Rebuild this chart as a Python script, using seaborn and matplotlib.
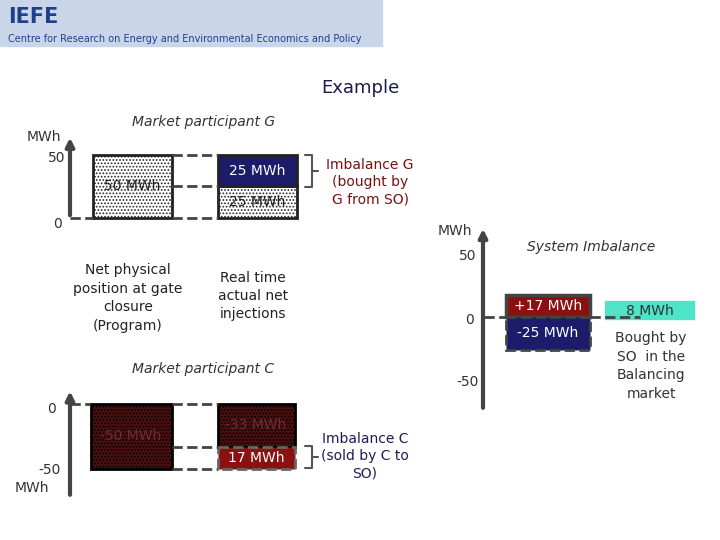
import matplotlib
matplotlib.use("Agg")
import matplotlib.pyplot as plt
import seaborn as sns
from matplotlib.patches import Rectangle

sns.set_theme(style="white")
plt.rcParams['font.family'] = ['DejaVu Sans']
plt.rcParams['hatch.color'] = '#888888'
plt.rcParams['hatch.linewidth'] = 0.8

W, H = 720, 540
# Data
g_program = [50]
g_real = [25, 25]          # lower white part, upper imbalance part
c_program = [-50]
c_real = [-33, -17]        # upper -33, lower imbalance 17
sys_pos = [17]
sys_neg = [-25]
bought = [8]

fig = plt.figure(figsize=(7.2, 5.4), dpi=100)
bg = fig.add_axes([0, 0, 1, 1])
bg.set_xlim(0, W); bg.set_ylim(H, 0); bg.axis('off')

def pax(left, right, top, bottom, y0px, ppu):
    ax = fig.add_axes([left / W, 1 - bottom / H, (right - left) / W, (bottom - top) / H])
    ax.set_xlim(left, right)
    ax.set_ylim((y0px - bottom) / ppu, (y0px - top) / ppu)
    ax.axis('off')
    ax.patch.set_alpha(0)
    return ax

# Header
bg.add_patch(Rectangle((0, 0), 382, 46, color='#c9d6ea', zorder=0))
bg.text(8, 17, "IEFE", fontsize=15, fontweight='bold', color='#1f3f8a', va='center')
bg.text(8, 39, "Centre for Research on Energy and Environmental Economics and Policy",
        fontsize=7, color='#1f3f8a', va='center')
bg.text(360, 88, "Example", fontsize=13, ha='center', va='center', color='#1a1a4a')

# ---- Market participant G
ppuG = (218 - 155) / 50
axG = pax(60, 320, 125, 235, 218, ppuG)
axG.bar([132], g_program, width=79, color='white', edgecolor='#222', lw=2, hatch='.....')
axG.bar([257], [g_real[0]], width=79, color='white', edgecolor='#222', lw=2, hatch='.....')
axG.bar([257], [g_real[1]], bottom=[g_real[0]], width=79, color='#1c1c6b', edgecolor='#222', lw=2)
for y in [0, 25, 50]:
    axG.plot([172, 218], [y, y], ls='--', color='#444', lw=2)
axG.plot([70, 93], [0, 0], ls='--', color='#444', lw=2)
axG.annotate('', xy=(70, 66), xytext=(70, 0), arrowprops=dict(arrowstyle='-|>', color='#444', lw=3))
axG.text(132, 25, "50 MWh", ha='center', va='center', fontsize=10, color='#222')
axG.text(257, 37.5, "25 MWh", ha='center', va='center', fontsize=10, color='white')
axG.text(257, 12.5, "25 MWh", ha='center', va='center', fontsize=10, color='#222')
bg.text(44, 137, "MWh", ha='center', va='center', fontsize=10, color='#333')
bg.text(57, 158, "50", ha='center', va='center', fontsize=10, color='#333')
bg.text(58, 224, "0", ha='center', va='center', fontsize=10, color='#333')
bg.text(204, 122, "Market participant G", ha='center', va='center', fontsize=10, style='italic', color='#333')
bg.text(370, 182, "Imbalance G\n(bought by\nG from SO)", ha='center', va='center', fontsize=10, color='#7a1010', linespacing=1.3)
bg.plot([305, 312, 312, 305], [155, 155, 187, 187], color='#555', lw=1.5)
bg.plot([312, 318], [171, 171], color='#555', lw=1.5)
bg.text(128, 298, "Net physical\nposition at gate\nclosure\n(Program)", ha='center', va='center', fontsize=10, color='#222', linespacing=1.4)
bg.text(253, 296, "Real time\nactual net\ninjections", ha='center', va='center', fontsize=10, color='#222', linespacing=1.4)

# ---- Market participant C
ppuC = (469 - 404) / 50
axC = pax(60, 320, 385, 500, 404, ppuC)
axC.bar([131], c_program, width=81, color='#4a0f0f', edgecolor='black', lw=2, hatch='.....')
axC.bar([256], [c_real[0]], width=77, color='#4a0f0f', edgecolor='black', lw=2, hatch='.....')
axC.bar([256], [c_real[1]], bottom=[c_real[0]], width=77, color='#8b1010', edgecolor='#666', lw=2, ls='--')
for y in [0, -33, -50]:
    axC.plot([172, 218], [y, y], ls='--', color='#444', lw=2)
axC.plot([70, 90], [0, 0], ls='--', color='#444', lw=2)
axC.annotate('', xy=(70, 12), xytext=(70, -72), arrowprops=dict(arrowstyle='-|>', color='#444', lw=3))
axC.text(131, -25, "-50 MWh", ha='center', va='center', fontsize=10, color='#6a3030')
axC.text(256, -16.5, "-33 MWh", ha='center', va='center', fontsize=10, color='#6a3030')
axC.text(256, -41.5, "17 MWh", ha='center', va='center', fontsize=10, color='white')
bg.text(52, 409, "0", ha='center', va='center', fontsize=10, color='#333')
bg.text(50, 470, "-50", ha='center', va='center', fontsize=10, color='#333')
bg.text(32, 488, "MWh", ha='center', va='center', fontsize=10, color='#333')
bg.text(203, 369, "Market participant C", ha='center', va='center', fontsize=10, style='italic', color='#333')
bg.text(365, 456, "Imbalance C\n(sold by C to\nSO)", ha='center', va='center', fontsize=10, color='#1c1c5a', linespacing=1.3)
bg.plot([305, 312, 312, 305], [446, 446, 468, 468], color='#555', lw=1.5)
bg.plot([312, 318], [457, 457], color='#555', lw=1.5)

# ---- System imbalance
ppuS = (382 - 317) / 50
axS = pax(460, 715, 225, 410, 317, ppuS)
axS.bar([548], sys_pos, width=84, color='#8b1010', edgecolor='#444', lw=2.5)
axS.bar([548], sys_neg, width=84, color='#1c1c6b', edgecolor='#444', lw=2, ls='--')
axS.bar([650], bought, bottom=[1], width=82, color='#4fe3c8', edgecolor='#4fe3c8', lw=6)
axS.plot([484, 506], [0, 0], ls='--', color='#444', lw=2)
axS.plot([590, 640], [0, 0], ls='--', color='#444', lw=2)
axS.annotate('', xy=(483, 70), xytext=(483, -72), arrowprops=dict(arrowstyle='-|>', color='#444', lw=3))
axS.text(548, 8.5, "+17 MWh", ha='center', va='center', fontsize=10, color='white')
axS.text(548, -12.5, "-25 MWh", ha='center', va='center', fontsize=10, color='white')
axS.text(650, 5, "8 MWh", ha='center', va='center', fontsize=10, color='#333')
bg.text(455, 231, "MWh", ha='center', va='center', fontsize=10, color='#333')
bg.text(468, 256, "50", ha='center', va='center', fontsize=10, color='#333')
bg.text(470, 320, "0", ha='center', va='center', fontsize=10, color='#333')
bg.text(468, 382, "-50", ha='center', va='center', fontsize=10, color='#333')
bg.text(591, 247, "System Imbalance", ha='center', va='center', fontsize=10, style='italic', color='#333')
bg.text(651, 366, "Bought by\nSO  in the\nBalancing\nmarket", ha='center', va='center', fontsize=10, color='#333', linespacing=1.4)

fig.savefig("out.png", dpi=100)
